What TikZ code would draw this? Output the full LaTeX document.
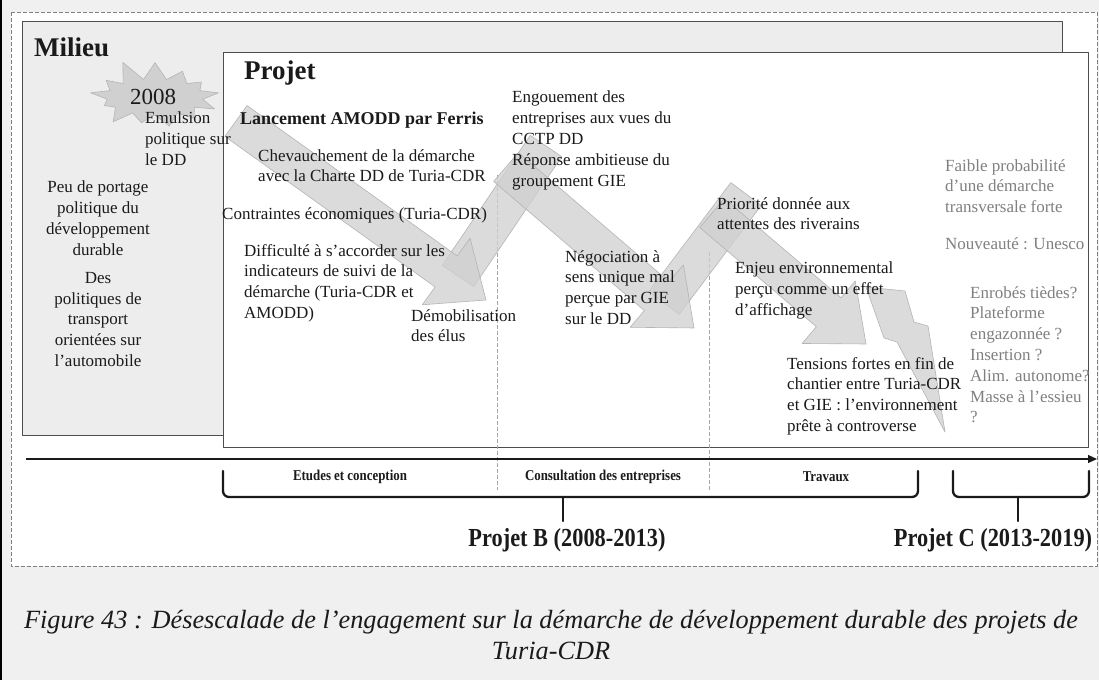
\documentclass[tikz,border=0pt]{standalone}
\usepackage{fontspec}
\setmainfont{Liberation Serif}
\newfontfamily\condfont[FakeStretch=0.86]{Liberation Serif}
\usepackage{tikz}
\usetikzlibrary{arrows.meta,shapes.symbols}
\definecolor{ddInk}{HTML}{1A1A1A}
\definecolor{ddMuted}{HTML}{808080}
\definecolor{ddLine}{HTML}{4D4D4D}
\definecolor{ddBand}{HTML}{D0D0D0}
\definecolor{ddBandEdge}{HTML}{B4B4B4}
\definecolor{ddPage}{HTML}{F0F0F0}
\definecolor{ddMilieu}{HTML}{EDEDED}
\tikzset{
  dd diagram/.style={x=1pt, y=-1pt, text=ddInk, line join=round},
  dd frame/.style={draw=ddMuted, fill=white, dash pattern=on 4pt off 2pt,
    line width=0.8pt},
  dd box/.style={draw=ddLine, line width=1pt},
  dd title/.style={font=\bfseries\fontsize{27}{31}\selectfont, anchor=west,
    inner sep=0pt},
  dd text/.style={font=\fontsize{17}{20.8}\selectfont, align=left,
    anchor=north west, inner sep=0pt, execute at begin node=\strut},
  dd note/.style={dd text, text=ddMuted},
  dd band/.style={fill=ddBand, fill opacity=0.75, draw=ddBandEdge,
    line width=0.6pt},
  dd burst/.style={starburst, starburst points=13, starburst point height=22pt,
    random starburst=11, fill=ddBand, draw=ddBandEdge, line width=0.6pt,
    minimum width=140pt, minimum height=80pt, inner sep=0pt},
  dd divider/.style={draw=ddMuted!70, dash pattern=on 4pt off 2pt,
    line width=0.6pt},
  dd axis/.style={-{Triangle[length=9pt,width=8pt]}, draw=ddInk,
    line width=1.3pt},
  dd brace/.style={draw=ddInk, line width=2.3pt, rounded corners=6pt,
    line cap=round},
  dd phase/.style={font=\condfont\bfseries\fontsize{15}{18}\selectfont,
    inner sep=0pt},
  dd project/.style={font=\condfont\bfseries\fontsize{26}{30}\selectfont,
    inner sep=0pt}
}

\begin{document}
\begin{tikzpicture}[dd diagram]
% page, frame and the two boxes
\fill[ddPage] (0,0) rectangle (1099,680);
\fill[black] (0,0) rectangle (2,680);
\draw[dd frame] (11,12) rectangle (1097,566);
\draw[dd box, fill=ddMilieu] (22,21) rectangle (1062,435);
\draw[dd box, fill=white] (223,52) rectangle (1088,447);
\node[dd title] (milieu) at (34,47) {Milieu};
\node[dd title] (projet) at (244,73) {Projet};

% phase dividers
\draw[dd divider] (497,175) -- (497,490);
\draw[dd divider] (709,252) -- (709,490);

% 2008 burst
\node[dd burst] (burst) at (155,97) {};
\node[font=\fontsize{23}{26}\selectfont, inner sep=0pt] (year) at (153,97) {2008};

% zigzag of the engagement
\foreach \tx/\ty/\px/\py in {458/276/546/146,664/303/746/194}{
  \pgfmathsetmacro\ang{atan2(\ty-\py,\px-\tx)}
  \pgfmathsetmacro\len{veclen(\px-\tx,\py-\ty)}
  \begin{scope}[shift={(\tx,\ty)}, rotate=\ang]
    \draw[dd band] (0,-19) rectangle (\len,19);
  \end{scope}
}
\foreach \tx/\ty/\px/\py in {236/121/486/300,506/167/694/328,712/213/866/344}{
  \pgfmathsetmacro\ang{atan2(\ty-\py,\px-\tx)}
  \pgfmathsetmacro\len{veclen(\px-\tx,\py-\ty)}
  \begin{scope}[shift={(\tx,\ty)}, rotate=\ang]
    \draw[dd band] (0,19) -- (\len-49,19) -- (\len-49,41) -- (\len,0)
      -- (\len-49,-41) -- (\len-49,-19) -- (0,-19) -- cycle;
  \end{scope}
}
\draw[dd band]
  (866,287) -- (905,291) -- (914,322) -- (928,326) -- (945,432)
  -- (897,342) -- (884,338) -- cycle;

% milieu
\node[dd text] (emulsion) at (145,112) {Emulsion\\politique sur\\le DD};
\node[dd text, align=center, anchor=north] (portage) at (98,181)
  {Peu de portage\\politique du\\développement\\durable};
\node[dd text, align=center, anchor=north] (transport) at (98,272)
  {Des\\politiques de\\transport\\orientées sur\\l’automobile};

% projet
\node[font=\bfseries\fontsize{18}{21}\selectfont, anchor=west, inner sep=0pt]
  (amodd) at (240,120) {Lancement AMODD par Ferris};
\node[dd text] (charte) at (258,149)
  {Chevauchement de la démarche\\avec la Charte DD de Turia-CDR};
\node[font=\fontsize{17}{20.8}\selectfont, anchor=west, inner sep=0pt]
  (contraintes) at (222,215) {Contraintes économiques (Turia-CDR)};
\node[dd text] (indicateurs) at (244,244)
  {Difficulté à s’accorder sur les\\indicateurs de suivi de la\\démarche (Turia-CDR et\\AMODD)};
\node[dd text] (elus) at (411,309) {Démobilisation\\des élus};
\node[dd text] (engouement) at (512,91)
  {Engouement des\\entreprises aux vues du\\CCTP DD\\Réponse ambitieuse du\\groupement GIE};
\node[dd text] (negociation) at (565,250)
  {Négociation à\\sens unique mal\\perçue par GIE\\sur le DD};
\node[dd text] (riverains) at (717,197)
  {Priorité donnée aux\\attentes des riverains};
\node[dd text] (affichage) at (735,262)
  {Enjeu environnemental\\perçu comme un effet\\d’affichage};
\node[dd text] (tensions) at (787,357)
  {Tensions fortes en fin de\\chantier entre Turia-CDR\\et GIE : l’environnement\\prête à controverse};

% projet C notes
\node[dd note] (faible) at (945,159)
  {Faible probabilité\\d’une démarche\\transversale forte};
\node[dd note] (unesco) at (945,235) {Nouveauté : Unesco};
\node[dd note] (enrobes) at (970,286)
  {Enrobés tièdes?\\Plateforme\\engazonnée ?\\Insertion ?\\Alim. autonome?\\Masse à l’essieu\\?};

% time line and phases
\coordinate (t0) at (26,459);
\coordinate (t1) at (1097,459);
\draw[dd axis] (t0) -- (t1);
\node[dd phase] (etudes) at (350,477) {Etudes et conception};
\node[dd phase] (consultation) at (603,477) {Consultation des entreprises};
\node[dd phase] (travaux) at (826,477) {Travaux};
\draw[dd brace] (223,471) -- (223,497) -- (918,497) -- (918,471);
\draw[dd brace, rounded corners=0pt] (563,497) -- (563,521);
\draw[dd brace] (953,471) -- (953,497) -- (1089,497) -- (1089,471);
\draw[dd brace, rounded corners=0pt] (1018,497) -- (1018,521);
\node[dd project] (projetB) at (567,540) {Projet B (2008-2013)};
\node[dd project] (projetC) at (993,540) {Projet C (2013-2019)};

% caption
\node[font=\itshape\fontsize{26.3}{31}\selectfont, align=center, inner sep=0pt]
  (caption) at (551,635)
  {Figure 43 : Désescalade de l’engagement sur la démarche de développement durable des projets de\\Turia-CDR};
\end{tikzpicture}
\end{document}
